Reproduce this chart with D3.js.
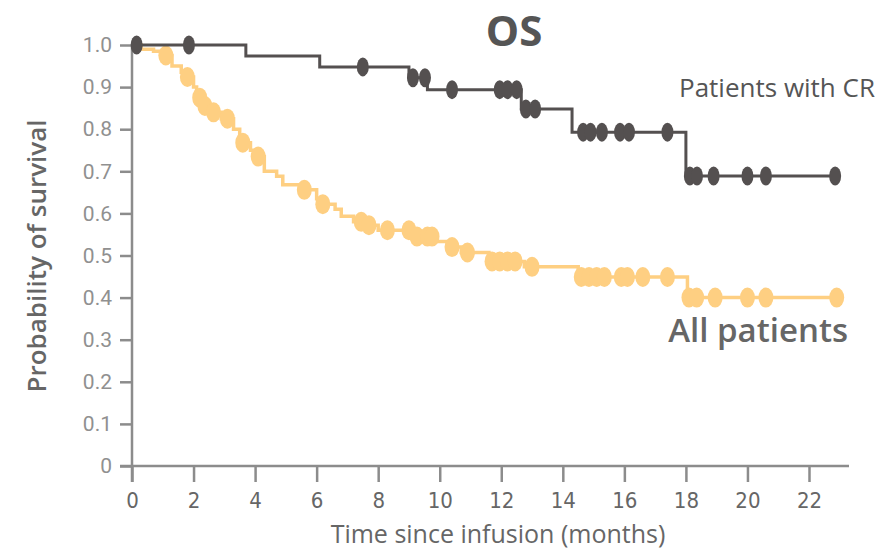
<!DOCTYPE html>
<html lang="en">
<head>
<meta charset="utf-8">
<script src="https://d3js.org/d3.v7.min.js"></script>
<style type="text/css">
body{
  margin: 0;
  padding: 0;
  background: white;
}
#chart{
  width: 894px;
  height: 552px;
}
</style>
</head>
<body>
<div id="chart"></div>
<script type="text/javascript">

// Patients with CR (dark curve) - step drops and censor marks
var crDropTimes = [0, 3.7, 6.1, 9.0, 9.6, 12.65, 14.3, 18.0];
var crDropSurv  = [1.0, 0.974, 0.948, 0.922, 0.894, 0.848, 0.793, 0.689];
var crCensorTimes = [0.15, 1.85, 7.5, 9.13, 9.52, 10.4, 11.95, 12.2, 12.5, 12.8, 13.1,
  14.66, 14.9, 15.27, 15.86, 16.15, 17.4, 18.13, 18.36, 18.9, 20.0, 20.6, 22.85];

// All patients (yellow curve)
var allDropTimes = [0, 0.3, 0.7, 1.0, 1.3, 1.6, 1.75, 2.0, 2.1, 2.3, 2.55, 2.9, 3.3, 3.5,
  3.85, 4.0, 4.3, 4.7, 4.9, 5.5, 6.0, 6.1, 6.6, 6.8, 7.2, 7.55, 8.0, 9.1, 9.8, 10.3, 10.7,
  11.6, 12.75, 14.5, 18.05];
var allDropSurv = [1.0, 0.99, 0.985, 0.975, 0.95, 0.935, 0.924, 0.9, 0.875, 0.855, 0.84, 0.825, 0.8, 0.768,
  0.75, 0.735, 0.7, 0.688, 0.668, 0.656, 0.635, 0.622, 0.61, 0.593, 0.58, 0.572, 0.56, 0.545, 0.533, 0.52, 0.507,
  0.486, 0.473, 0.449, 0.4];
var allCensorTimes = [1.1, 1.8, 2.2, 2.37, 2.65, 3.1, 3.6, 4.1, 5.6, 6.2, 7.45, 7.7, 8.3, 9.0, 9.26,
  9.6, 9.75, 10.4, 10.9, 11.7, 11.95, 12.2, 12.45, 13.0, 14.6, 14.85, 15.1, 15.35, 15.9, 16.1,
  16.6, 17.4, 18.1, 18.35, 18.95, 20.0, 20.6, 22.9];

var xTicks = [0, 2, 4, 6, 8, 10, 12, 14, 16, 18, 20, 22];
var yTicks = [0, 0.1, 0.2, 0.3, 0.4, 0.5, 0.6, 0.7, 0.8, 0.9, 1.0];
var yTickLabels = ["0", "0.1", "0.2", "0.3", "0.4", "0.5", "0.6", "0.7", "0.8", "0.9", "1.0"];

var width = 894;
var height = 552;

var svg = d3.select("#chart")
  .append("svg")
  .attr("width", width)
  .attr("height", height);

var x = d3.scaleLinear().domain([0, 23.3]).range([132, 849]);
var y = d3.scaleLinear().domain([0, 1]).range([466, 45]);

var axisColor = "#8c8c8c";

// y axis
var yAxis = d3.axisLeft(y)
  .tickValues(yTicks)
  .tickSize(12)
  .tickPadding(8)
  .tickFormat(function(d, i){ return yTickLabels[i]; });

var gy = svg.append("g")
  .attr("transform", "translate(132,0)")
  .call(yAxis);
gy.select(".domain").remove();
gy.selectAll(".tick line").attr("stroke", axisColor).attr("stroke-width", 2.5);
gy.selectAll(".tick text")
  .attr("fill", "#909090")
  .style("font-family", "Roboto, sans-serif")
  .style("font-size", "21px");

svg.append("line")
  .attr("x1", 132).attr("x2", 132)
  .attr("y1", y(1)).attr("y2", y(0) + 16)
  .attr("stroke", axisColor).attr("stroke-width", 2.5);

// x axis
var xAxis = d3.axisBottom(x)
  .tickValues(xTicks)
  .tickSize(16)
  .tickPadding(10)
  .tickFormat(d3.format("d"));

var gx = svg.append("g")
  .attr("transform", "translate(0," + y(0) + ")")
  .call(xAxis);
gx.select(".domain").remove();
gx.selectAll(".tick line").attr("stroke", axisColor).attr("stroke-width", 2.5);
gx.selectAll(".tick text")
  .attr("fill", "#666")
  .style("font-family", "'Liberation Sans Narrow', 'DejaVu Sans Condensed', sans-serif")
  .style("font-stretch", "condensed")
  .style("font-size", "22px");

svg.append("line")
  .attr("x1", 120).attr("x2", 849)
  .attr("y1", y(0)).attr("y2", y(0))
  .attr("stroke", axisColor).attr("stroke-width", 2.5);

// axis titles
svg.append("text")
  .attr("x", 498).attr("y", 543)
  .attr("text-anchor", "middle")
  .attr("fill", "#666")
  .style("font-family", "'Open Sans', sans-serif")
  .style("font-size", "25px")
  .text("Time since infusion (months)");

svg.append("text")
  .attr("transform", "translate(46,256) rotate(-90)")
  .attr("text-anchor", "middle")
  .attr("fill", "#666")
  .style("font-family", "'Open Sans', sans-serif")
  .style("font-weight", "600")
  .style("font-size", "26px")
  .text("Probability of survival");

// step helper
function survAt(times, surv, t){
  var s = surv[0];
  for (var i = 0; i < times.length; i++) {
    if (times[i] <= t) s = surv[i];
  }
  return s;
}

function stepPoints(times, surv, endT){
  var pts = [];
  for (var i = 0; i < times.length; i++) pts.push([times[i], surv[i]]);
  pts.push([endT, surv[surv.length - 1]]);
  return pts;
}

var line = d3.line()
  .x(function(d){ return x(d[0]); })
  .y(function(d){ return y(d[1]); })
  .curve(d3.curveStepAfter);

function drawCurve(times, surv, censors, color, lw, rx, ry){
  var endT = censors[censors.length - 1];
  svg.append("path")
    .datum(stepPoints(times, surv, endT))
    .attr("d", line)
    .attr("fill", "none")
    .attr("stroke", color)
    .attr("stroke-width", lw);

  svg.append("g").selectAll("ellipse")
    .data(censors)
    .enter()
    .append("ellipse")
    .attr("cx", function(d){ return x(d); })
    .attr("cy", function(d){ return y(survAt(times, surv, d)); })
    .attr("rx", rx)
    .attr("ry", ry)
    .attr("fill", color);
}

drawCurve(allDropTimes, allDropSurv, allCensorTimes, "#fecf82", 3.5, 7.5, 10);
drawCurve(crDropTimes, crDropSurv, crCensorTimes, "#545050", 3, 6, 9.5);

// labels
svg.append("text")
  .attr("x", 514).attr("y", 46)
  .attr("text-anchor", "middle")
  .attr("fill", "#555")
  .style("font-family", "'Open Sans', sans-serif")
  .style("font-weight", "700")
  .style("font-size", "42px")
  .text("OS");

svg.append("text")
  .attr("x", 875).attr("y", 97)
  .attr("text-anchor", "end")
  .attr("fill", "#555")
  .style("font-family", "'Open Sans', sans-serif")
  .style("font-size", "26px")
  .text("Patients with CR");

svg.append("text")
  .attr("x", 848).attr("y", 342)
  .attr("text-anchor", "end")
  .attr("fill", "#666")
  .style("font-family", "'Open Sans', sans-serif")
  .style("font-weight", "600")
  .style("font-size", "33px")
  .text("All patients");

</script>
</body>
</html>
